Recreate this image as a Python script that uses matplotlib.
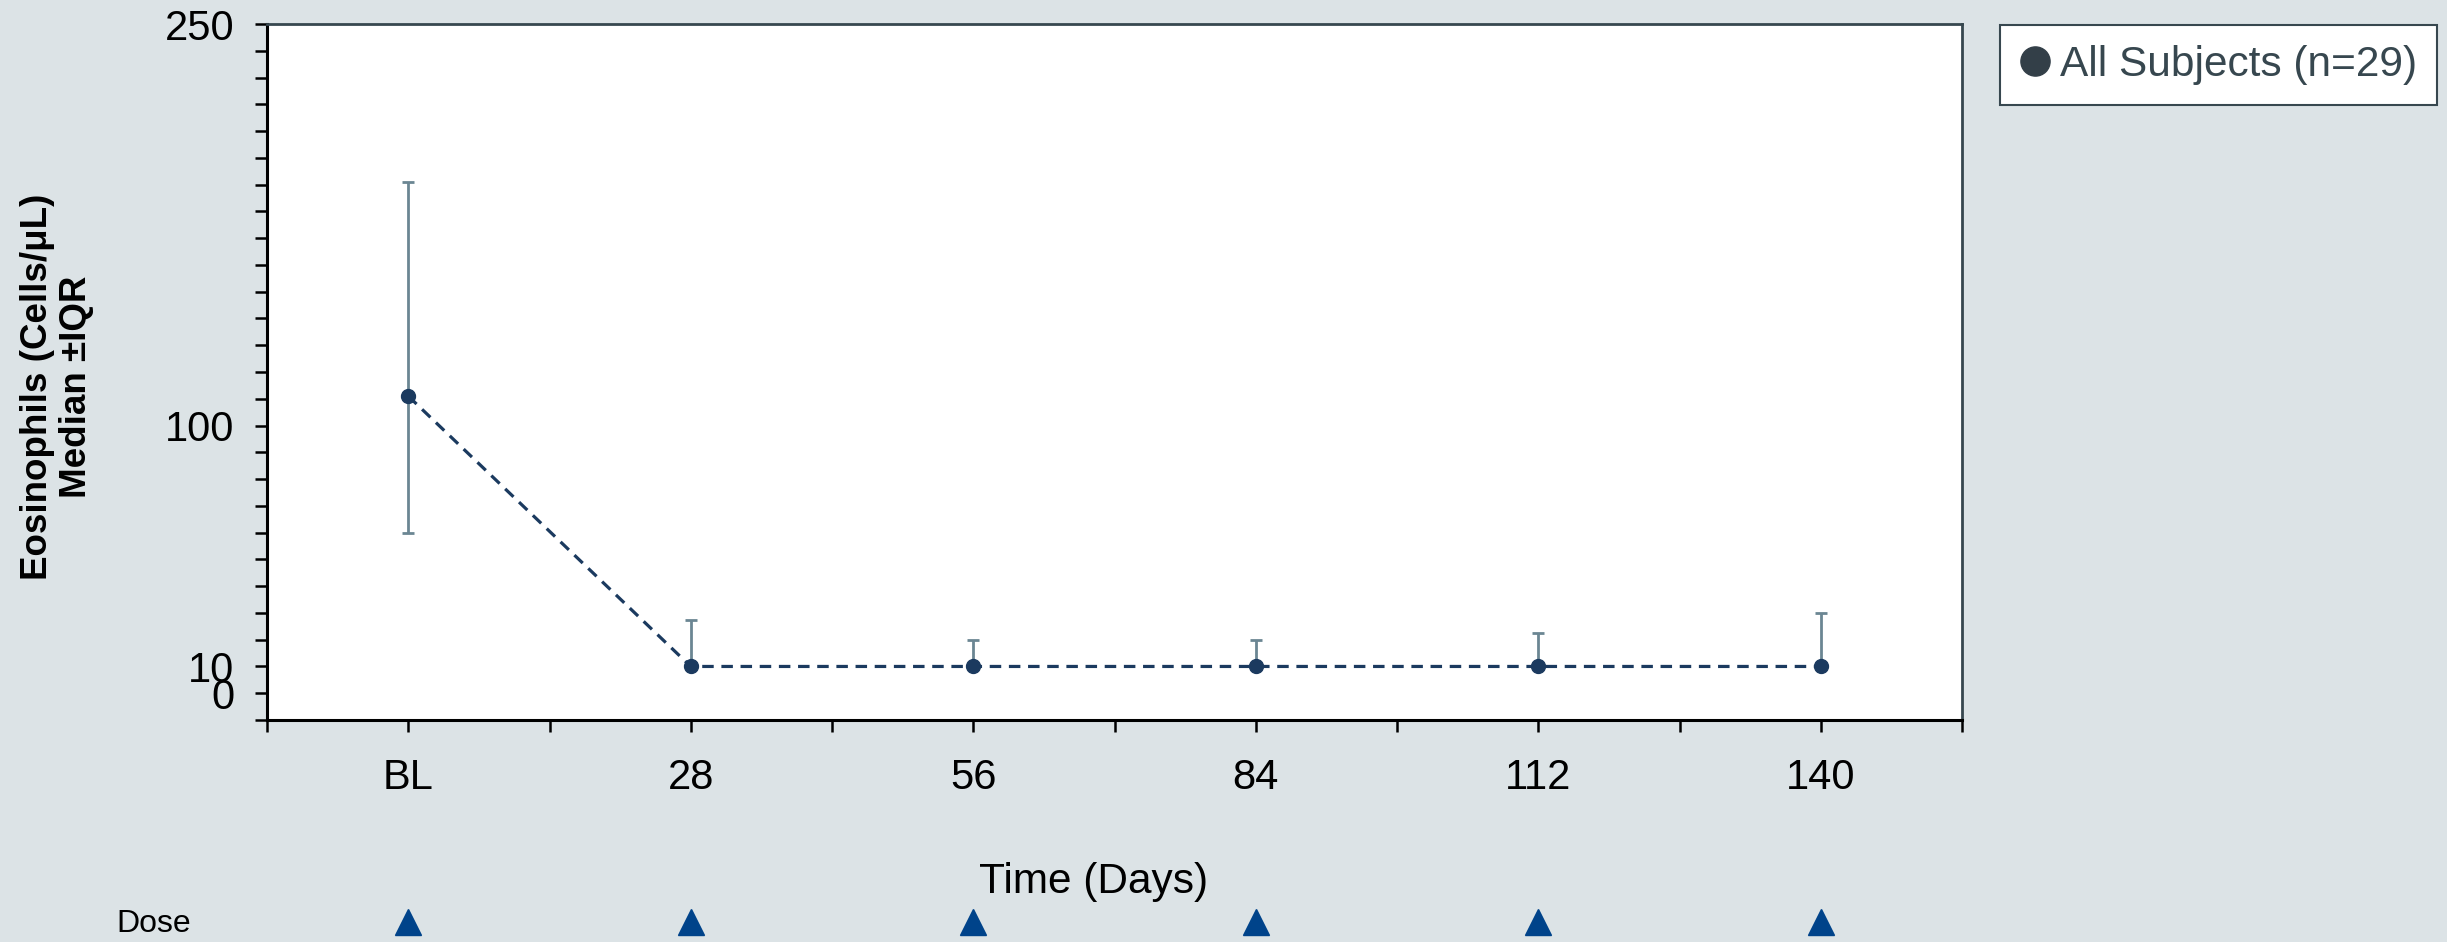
import matplotlib
matplotlib.use("Agg")
import matplotlib.pyplot as plt
import matplotlib.transforms as mtransforms
from matplotlib.lines import Line2D
import numpy as np

# ==========================================
# DATA
# ==========================================

days = [0, 28, 56, 84, 112, 140]
day_labels = ["BL", "28", "56", "84", "112", "140"]

median = [111, 10, 10, 10, 10, 10]
q1 = [60, 10, 10, 10, 10, 10]
q3 = [191, 27.5, 20, 20, 22.5, 30]

y_label_values = [0, 10, 100, 250]
y_label_texts = ["0", "10", "100", "250"]

dose_days = [0, 28, 56, 84, 112, 140]
legend_label = "All Subjects (n=29)"

# ==========================================
# STYLE
# ==========================================

BG = "#dce3e6"
NAVY = "#1b3a5f"
ERR = "#6b8693"
SPINE_GREY = "#37474f"
DOSE_BLUE = "#00438a"

plt.rcParams["font.family"] = ["Liberation Sans", "DejaVu Sans"]

W, H, DPI = 2447, 942, 100
fig = plt.figure(figsize=(W / DPI, H / DPI), dpi=DPI, facecolor=BG)

# axes box in pixels: left 267, right 1962, top 24, bottom 720
ax = fig.add_axes([267 / W, 1 - 720 / H, (1962 - 267) / W, (720 - 24) / H])
ax.set_facecolor("white")

# ==========================================
# SERIES
# ==========================================

lower = np.array(median) - np.array(q1)
upper = np.array(q3) - np.array(median)

ax.errorbar(
    days, median,
    yerr=[lower, upper],
    fmt="none",
    ecolor=ERR,
    elinewidth=2.0,
    capsize=4.5,
    capthick=2.0,
    zorder=2
)

ax.plot(
    days, median,
    linestyle=(0, (3.6, 2.4)),
    linewidth=2.3,
    color=NAVY,
    zorder=3
)

ax.plot(
    days, median,
    linestyle="none",
    marker="o",
    markersize=10,
    color=NAVY,
    zorder=4
)

# ==========================================
# AXES
# ==========================================

ax.set_xlim(-14, 154)
ax.set_ylim(-10, 250)

ax.set_xticks(days)
ax.set_xticklabels(day_labels)
ax.set_xticks(np.arange(-14, 155, 28), minor=True)

yticks = np.arange(-10, 251, 10)
ax.set_yticks(yticks)
ax.set_yticklabels([
    y_label_texts[y_label_values.index(v)] if v in y_label_values else ""
    for v in yticks
])

ax.tick_params(axis="both", which="both", direction="out",
               length=8.6, width=1.8, color="black")
ax.tick_params(axis="y", labelsize=30, pad=15)
ax.tick_params(axis="x", labelsize=30, pad=19)

for side in ["left", "bottom"]:
    ax.spines[side].set_color("black")
    ax.spines[side].set_linewidth(2.2)
for side in ["top", "right"]:
    ax.spines[side].set_color(SPINE_GREY)
    ax.spines[side].set_linewidth(2.0)

# ==========================================
# LABELS
# ==========================================

fig.text(
    57 / W, 1 - 387 / H,
    "Eosinophils (Cells/\u03bcL)\nMedian \u00b1IQR",
    rotation=90, ha="center", va="center", multialignment="center",
    fontsize=26.5, fontweight="bold", color="black", linespacing=1.15
)

fig.text(1094 / W, 1 - 882 / H, "Time (Days)",
         ha="center", va="center", fontsize=30.5, color="black")

# ==========================================
# DOSE ROW
# ==========================================

fig.text(154 / W, 1 - 924 / H, "Dose", ha="center", va="center",
         fontsize=23, color="black")

trans = mtransforms.blended_transform_factory(ax.transData, fig.transFigure)
ax.plot(
    dose_days, [1 - 922 / H] * len(dose_days),
    linestyle="none", marker="^", markersize=18.5,
    color=DOSE_BLUE, transform=trans, clip_on=False
)

# ==========================================
# LEGEND
# ==========================================

handle = Line2D([], [], linestyle="none", marker="o",
                markersize=21, color="#333f48")
leg = fig.legend(
    [handle], [legend_label],
    loc="upper left", bbox_to_anchor=(2000 / W, 1 - 25 / H),
    fontsize=30.5, frameon=True, fancybox=False, framealpha=1,
    handlelength=0.7, handletextpad=0.25, borderpad=0.47,
    borderaxespad=0
)
leg.get_frame().set_edgecolor(SPINE_GREY)
leg.get_frame().set_linewidth(1.5)
leg.get_frame().set_facecolor("white")
for t in leg.get_texts():
    t.set_color(SPINE_GREY)

fig.savefig("out.png", dpi=DPI, facecolor=BG)
